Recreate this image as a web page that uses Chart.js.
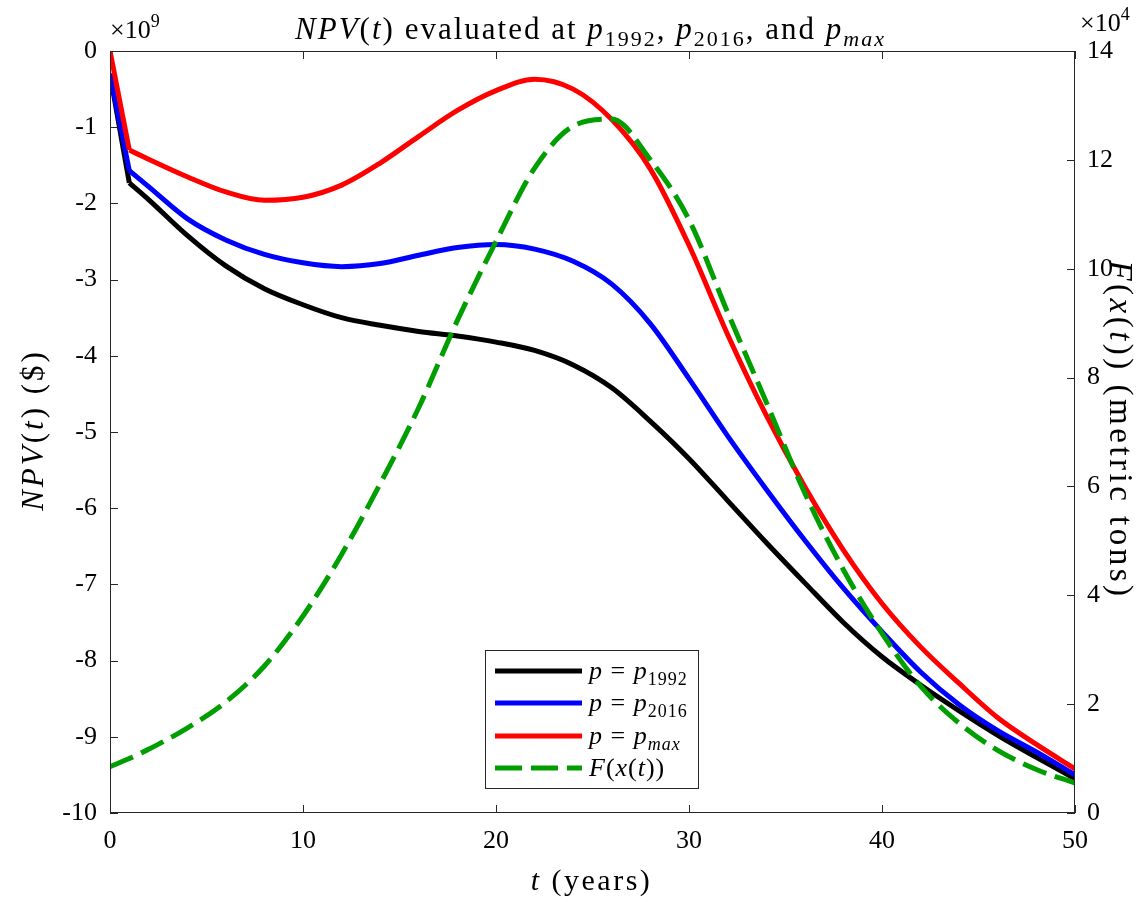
<!DOCTYPE html>
<html><head><meta charset="utf-8">
<script src="https://cdn.jsdelivr.net/npm/chart.js@4.4.1/dist/chart.umd.min.js"></script>
<style>html,body{margin:0;padding:0;background:#fff}#wrap{width:1147px;height:902px;position:relative}</style>
</head><body><div id="wrap"><canvas id="c" width="1147" height="902"></canvas></div>
<script>
const years   = [0,1,2,4,6,8,10,12,14,16,18,20,22,24,26,28,30,32,34,36,38,40,42,44,46,48,50];
const npv1992 = [-0.3,-1.73,-1.95,-2.42,-2.82,-3.12,-3.33,-3.5,-3.6,-3.68,-3.74,-3.82,-3.93,-4.12,-4.42,-4.86,-5.35,-5.9,-6.45,-6.98,-7.5,-7.95,-8.32,-8.66,-8.98,-9.27,-9.55];
const npv2016 = [-0.3,-1.57,-1.78,-2.2,-2.48,-2.67,-2.78,-2.83,-2.79,-2.68,-2.58,-2.54,-2.6,-2.76,-3.06,-3.58,-4.3,-5.05,-5.75,-6.42,-7.05,-7.62,-8.15,-8.58,-8.92,-9.2,-9.5];
const npvMax  = [0,-1.3,-1.42,-1.65,-1.85,-1.96,-1.92,-1.76,-1.47,-1.12,-0.78,-0.52,-0.37,-0.5,-0.9,-1.55,-2.55,-3.72,-4.78,-5.72,-6.55,-7.25,-7.82,-8.3,-8.75,-9.1,-9.42];
const harvest = [0.85,1.0,1.17,1.56,2.04,2.7,3.62,4.75,6.05,7.45,9.05,10.5,11.85,12.62,12.75,12.0,10.9,9.2,7.55,5.88,4.47,3.3,2.33,1.65,1.15,0.8,0.55]; // x10^4 metric tons
const xTicks = [0,10,20,30,40,50];
const yLeftTicks = [0,-1,-2,-3,-4,-5,-6,-7,-8,-9,-10];
const yRightTicks = [0,2,4,6,8,10,12,14];

const SERIF = '"Liberation Serif", "Times New Roman", serif';
const AX = '#262626';

function fontFor(st, size){
  const it = st.includes('i');
  const small = st.includes('s') || st.includes('u');
  const sz = small ? Math.round(size*0.7) : size;
  return (it ? 'italic ' : '') + sz + 'px ' + SERIF;
}
function measureRich(ctx, segs, size){
  let w = 0;
  for (const [t, st] of segs){ ctx.font = fontFor(st, size); w += ctx.measureText(t).width; }
  return w;
}
function drawRich(ctx, segs, x, y, size, align, angle, spacing){
  ctx.save();
  ctx.translate(x, y);
  ctx.rotate(angle || 0);
  ctx.letterSpacing = (spacing || 0) + 'px';
  const w = measureRich(ctx, segs, size);
  let cx = align === 'center' ? -w/2 : (align === 'right' ? -w : 0);
  ctx.textAlign = 'left';
  ctx.textBaseline = 'alphabetic';
  ctx.fillStyle = '#000';
  for (const [t, st] of segs){
    ctx.font = fontFor(st, size);
    let dy = 0;
    if (st.includes('s')) dy = size*0.22;
    if (st.includes('u')) dy = -size*0.42;
    ctx.fillText(t, cx, dy);
    cx += ctx.measureText(t).width;
  }
  ctx.restore();
}

// first segment (t=0..1) is a straight jump, the rest is a smooth curve
const head = arr => years.slice(0, 2).map((x, i) => ({x, y: arr[i]}));
const tail = arr => years.slice(1).map((x, i) => ({x, y: arr[i + 1]}));
const all  = arr => years.map((x, i) => ({x, y: arr[i]}));

const decorPlugin = {
  id: 'decor',
  afterDraw(chart){
    const {ctx, chartArea: a, scales} = chart;
    const xs = scales.x, yl = scales.y, yr = scales.y2;
    ctx.save();
    ctx.strokeStyle = AX; ctx.lineWidth = 1;
    ctx.strokeRect(Math.round(a.left)+0.5, Math.round(a.top)+0.5, Math.round(a.right-a.left)-1, Math.round(a.bottom-a.top)-1);
    const TL = 8;
    ctx.beginPath();
    for (const v of xTicks){
      const px = Math.round(xs.getPixelForValue(v)) + 0.5;
      ctx.moveTo(px, a.bottom); ctx.lineTo(px, a.bottom - TL);
      ctx.moveTo(px, a.top); ctx.lineTo(px, a.top + TL);
    }
    for (const v of yLeftTicks){
      const py = Math.round(yl.getPixelForValue(v)) + 0.5;
      ctx.moveTo(a.left, py); ctx.lineTo(a.left + TL, py);
    }
    for (const v of yRightTicks){
      const py = Math.round(yr.getPixelForValue(v)) + 0.5;
      ctx.moveTo(a.right, py); ctx.lineTo(a.right - TL, py);
    }
    ctx.stroke();

    // title
    drawRich(ctx, [['NPV','i'],['(','r'],['t','i'],[')','r'],[' evaluated at ','r'],['p','i'],['1992','sr'],[', ','r'],['p','i'],['2016','sr'],[', and ','r'],['p','i'],['max','si']], (a.left+a.right)/2 - 2, 39, 31, 'center', 0, 2);
    // exponents
    drawRich(ctx, [['\u00D710','r'],['9','ur']], a.left, 38, 26, 'left');
    drawRich(ctx, [['\u00D710','r'],['4','ur']], a.right + 5, 31, 26, 'left');
    // axis titles
    drawRich(ctx, [['t','i'],[' (years)','r']], (a.left+a.right)/2 - 1, 890, 30, 'center', 0, 2.5);
    drawRich(ctx, [['NPV','i'],['(','r'],['t','i'],[')','r'],[' ($)','r']], 43, 430, 31, 'center', -Math.PI/2, 3);
    drawRich(ctx, [['F','i'],['(','r'],['x','i'],['(','r'],['t','i'],['))','r'],[' (metric tons)','r']], 1110, 430, 33, 'center', Math.PI/2, 3.5);

    // legend
    const L = {x: 485.5, y: 650.5, w: 213, h: 138};
    ctx.fillStyle = '#fff'; ctx.fillRect(L.x, L.y, L.w, L.h);
    ctx.strokeStyle = AX; ctx.lineWidth = 1; ctx.strokeRect(L.x, L.y, L.w, L.h);
    const items = [
      {c:'#000000', dash:[], segs:[['p','i'],[' = ','r'],['p','i'],['1992','sr']]},
      {c:'#0000ff', dash:[], segs:[['p','i'],[' = ','r'],['p','i'],['2016','sr']]},
      {c:'#ff0000', dash:[], segs:[['p','i'],[' = ','r'],['p','i'],['max','si']]},
      {c:'#009e00', dash:[27,9], segs:[['F','i'],['(','r'],['x','i'],['(','r'],['t','i'],['))','r']]}
    ];
    const rows = [671, 703, 736, 768];
    items.forEach((it, i) => {
      ctx.save();
      ctx.strokeStyle = it.c; ctx.lineWidth = 5; ctx.setLineDash(it.dash); ctx.lineCap = 'butt';
      ctx.beginPath(); ctx.moveTo(495, rows[i]); ctx.lineTo(582, rows[i]); ctx.stroke();
      ctx.restore();
      drawRich(ctx, it.segs, 589, rows[i] + 8, 26, 'left', 0, 1);
    });
    ctx.restore();
  }
};

const lineDs = (label, data, color, order, extra) => Object.assign({label, data, borderColor: color, borderWidth: 5, yAxisID: 'y', order}, extra || {});

new Chart(document.getElementById('c'), {
  type: 'line',
  data: {
    datasets: [
      lineDs('p = p1992', tail(npv1992), '#000000', 3),
      lineDs('p = p1992 start', head(npv1992), '#000000', 3, {tension: 0, cubicInterpolationMode: 'default'}),
      lineDs('p = p2016', tail(npv2016), '#0000ff', 2),
      lineDs('p = p2016 start', head(npv2016), '#0000ff', 2, {tension: 0, cubicInterpolationMode: 'default'}),
      lineDs('p = pmax', tail(npvMax), '#ff0000', 1),
      lineDs('p = pmax start', head(npvMax), '#ff0000', 1, {tension: 0, cubicInterpolationMode: 'default'}),
      {label: 'F(x(t))', data: all(harvest), borderColor: '#009e00', borderWidth: 5, borderDash: [25,9], yAxisID: 'y2', order: 0}
    ]
  },
  options: {
    responsive: false,
    animation: false,
    devicePixelRatio: 1,
    layout: {padding: {top: 51, left: 0, right: 0, bottom: 0}},
    elements: {point: {radius: 0}, line: {cubicInterpolationMode: 'monotone', fill: false, borderCapStyle: 'butt', borderJoinStyle: 'miter'}},
    plugins: {legend: {display: false}, tooltip: {enabled: false}, title: {display: false}},
    scales: {
      x: {
        type: 'linear', position: 'bottom', min: 0, max: 50,
        afterBuildTicks: s => { s.ticks = xTicks.map(v => ({value: v})); },
        afterFit: s => { s.height = 89; },
        grid: {display: false, drawTicks: false, tickLength: 0}, border: {display: false},
        ticks: {font: {family: SERIF, size: 26}, color: '#000', padding: 13, maxRotation: 0, autoSkip: false}
      },
      y: {
        type: 'linear', position: 'left', min: -10, max: 0,
        afterBuildTicks: s => { s.ticks = yLeftTicks.map(v => ({value: v})); },
        afterFit: s => { s.width = 110; },
        grid: {display: false, drawTicks: false, tickLength: 0}, border: {display: false},
        ticks: {font: {family: SERIF, size: 26}, color: '#000', padding: 13, autoSkip: false}
      },
      y2: {
        type: 'linear', position: 'right', min: 0, max: 14,
        afterBuildTicks: s => { s.ticks = yRightTicks.map(v => ({value: v})); },
        afterFit: s => { s.width = 72; },
        grid: {display: false, drawTicks: false, tickLength: 0}, border: {display: false},
        ticks: {font: {family: SERIF, size: 26}, color: '#000', padding: 12, autoSkip: false}
      }
    }
  },
  plugins: [decorPlugin]
});
</script>
</body></html>
